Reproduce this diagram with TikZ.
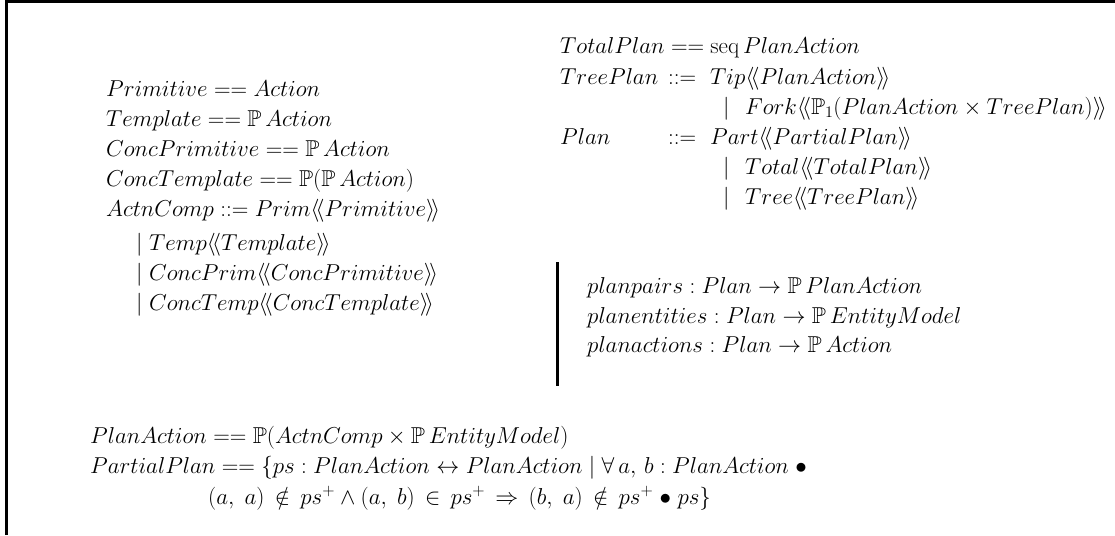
\documentclass[tikz,border=0pt]{standalone}
\usepackage{fix-cm}
\usepackage{amssymb}
\usetikzlibrary{positioning}

\newcommand{\zlda}{\langle\!\langle}
\newcommand{\zrda}{\rangle\!\rangle}
\newcommand{\zpow}{\mathbb{P}\,}
\newcommand{\zspot}{\mathrel{\bullet}}
\newcommand{\zrel}[1]{\,#1\,}

\tikzset{zline/.style={anchor=base west,inner sep=0pt,
                       font=\fontsize{23}{27}\selectfont},
         zbar/.style={line width=3pt}}

\begin{document}
\begin{tikzpicture}[x=1pt,y=-1pt]
    \useasboundingbox (0,0) rectangle (1115,535);
    \draw[zbar] (6,535) -- (6,1.5) -- (1115,1.5);

    % abbreviations and the free type of compound actions
    \node[zline](prim) at (106,96) {$Primitive == Action$};
    \node[zline](templ) at (106,126) {$Template == \zpow Action$};
    \node[zline](cprim) at (106,156) {$ConcPrimitive == \zpow Action$};
    \node[zline](ctempl) at (106,186) {$ConcTemplate == \mathbb{P}(\zpow Action)$};
    \node[zline](actn) at (106,216) {$ActnComp ::= Prim\zlda Primitive\zrda$};
    \node[zline](bar1) at (136,250) {$|$};
    \node[zline](temp) at (149,250) {$Temp\zlda Template\zrda$};
    \node[zline](bar2) at (136,280) {$|$};
    \node[zline](cprimb) at (149,280) {$ConcPrim\zlda ConcPrimitive\zrda$};
    \node[zline](bar3) at (136,310) {$|$};
    \node[zline](ctemp) at (149,310) {$ConcTemp\zlda ConcTemplate\zrda$};

    % plans
    \node[zline](total) at (560,54) {$TotalPlan == \mathrm{seq}\,PlanAction$};
    \node[zline](tree) at (560,84) {$TreePlan$};
    \node[zline](treedef) at (668,84) {$::=$};
    \node[zline](tip) at (710,84) {$Tip\zlda PlanAction\zrda$};
    \node[zline](tbar) at (723,114) {$|$};
    \node[zline](fork) at (745,114) {$Fork\zlda\mathbb{P}_1(PlanAction \times TreePlan)\zrda$};
    \node[zline](plan) at (560,144) {$Plan$};
    \node[zline](plandef) at (668,144) {$::=$};
    \node[zline](part) at (710,144) {$Part\zlda PartialPlan\zrda$};
    \node[zline](pbar1) at (723,174) {$|$};
    \node[zline](totalb) at (745,174) {$Total\zlda TotalPlan\zrda$};
    \node[zline](pbar2) at (723,204) {$|$};
    \node[zline](treeb) at (745,204) {$Tree\zlda TreePlan\zrda$};

    % axiomatic description
    \coordinate (axtop) at (557,262);
    \coordinate (axbot) at (557,386);
    \draw[zbar] (axtop) -- (axbot);
    \node[zline](pairs) at (587,293) {$planpairs : Plan \rightarrow \zpow PlanAction$};
    \node[zline](ents) at (587,323) {$planentities : Plan \rightarrow \zpow EntityModel$};
    \node[zline](acts) at (587,352) {$planactions : Plan \rightarrow \zpow Action$};

    % plan actions and partial plans
    \node[zline](pact) at (90,443) {$PlanAction == \mathbb{P}(ActnComp \times \zpow EntityModel)$};
    \node[zline](ppart) at (90,473) {$PartialPlan == \{ps : PlanAction \leftrightarrow PlanAction \mid \forall\, a,\, b : PlanAction \zspot$};
    \node[zline](pcond) at (208,504) {$(a,\; a) \zrel\notin ps^+ \wedge (a,\; b) \zrel\in ps^+ \zrel\Rightarrow (b,\; a) \zrel\notin ps^+ \zspot ps\}$};

\end{tikzpicture}
\end{document}
